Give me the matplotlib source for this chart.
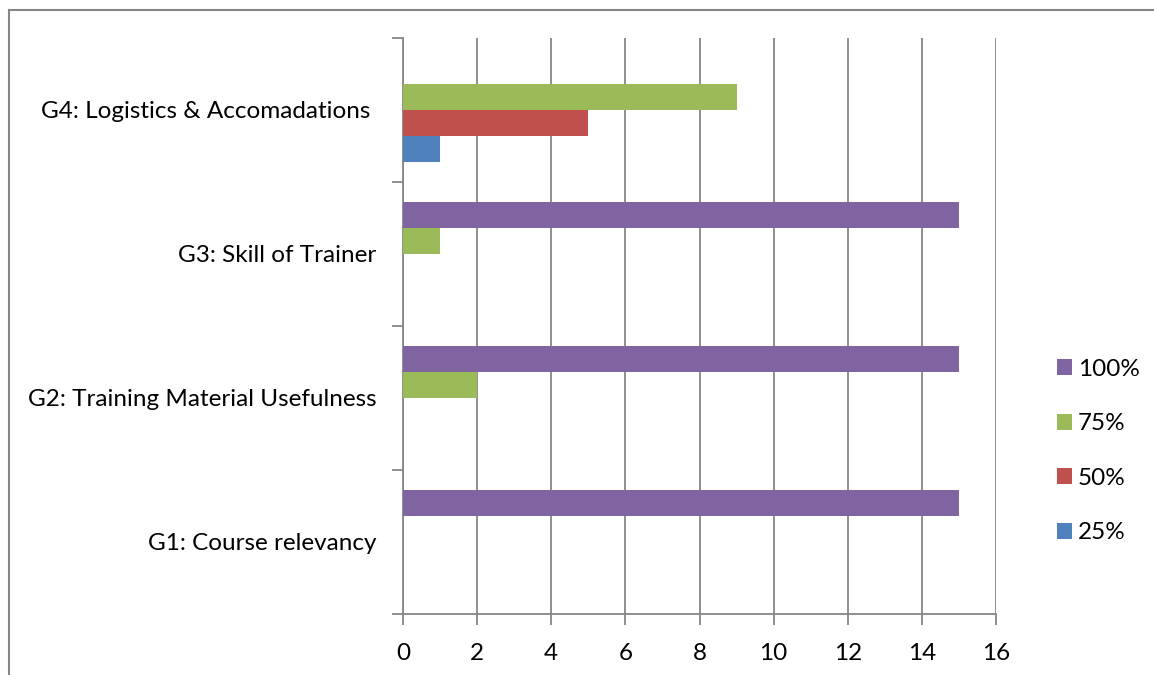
import numpy as np
import matplotlib.pyplot as plt
from matplotlib.lines import Line2D

# data
categories = ['G1: Course relevancy', 'G2: Training Material Usefulness',
              'G3: Skill of Trainer', 'G4: Logistics & Accomadations ']
series_names = ['25%', '50%', '75%', '100%']
vals_25 = [0, 0, 0, 1]
vals_50 = [0, 0, 0, 5]
vals_75 = [0, 2, 1, 9]
vals_100 = [15, 15, 15, 0]
x_ticks = [0, 2, 4, 6, 8, 10, 12, 14, 16]

colors = ['#4F81BD', '#C0504D', '#9BBB59', '#8064A2']
plt.rcParams['font.family'] = ['Lato', 'DejaVu Sans']
fs = 17.5

fig = plt.figure(figsize=(11.54, 6.75), dpi=100)
ax = fig.add_axes([403 / 1154, 61 / 675, 593 / 1154, 576 / 675])

y = np.arange(len(categories))
h = 0.18
all_vals = [vals_25, vals_50, vals_75, vals_100]
for j, (vals, name) in enumerate(zip(all_vals, series_names)):
    ax.barh(y + (j - 1.5) * h, vals, height=h, color=colors[j], label=name, zorder=3)

ax.set_xlim(0, 16)
ax.set_ylim(-0.5, 3.5)
ax.set_xticks(x_ticks)
ax.set_xticklabels([str(t) for t in x_ticks], fontsize=fs)
ax.set_yticks(y)
ax.set_yticklabels(categories, fontsize=fs)
ax.set_yticks(np.arange(-0.5, 4, 1), minor=True)

gray = '#868686'
ax.tick_params(axis='y', which='major', length=0, pad=19)
ax.tick_params(axis='y', which='minor', length=8, width=1.3, color=gray)
ax.tick_params(axis='x', which='major', length=8, width=1.3, color=gray, pad=13)
ax.grid(axis='x', color=gray, linewidth=1.3, zorder=0)

for s in ['top', 'right']:
    ax.spines[s].set_visible(False)
for s in ['left', 'bottom']:
    ax.spines[s].set_color(gray)
    ax.spines[s].set_linewidth(1.3)

handles, labels = ax.get_legend_handles_labels()
fig.legend(handles[::-1], labels[::-1], loc='center left',
           bbox_to_anchor=(1035 / 1154, 1 - 451 / 675), frameon=False,
           fontsize=fs, handlelength=0.62, handleheight=0.62,
           handletextpad=0.25, labelspacing=1.38)

# outer chart border
fig.add_artist(Line2D([8.5 / 1154, 8.5 / 1154], [0, 1 - 10 / 675],
                      transform=fig.transFigure, color=gray, linewidth=1.5))
fig.add_artist(Line2D([8.5 / 1154, 1], [1 - 10 / 675, 1 - 10 / 675],
                      transform=fig.transFigure, color=gray, linewidth=1.5))

fig.savefig('out.png', dpi=100)
